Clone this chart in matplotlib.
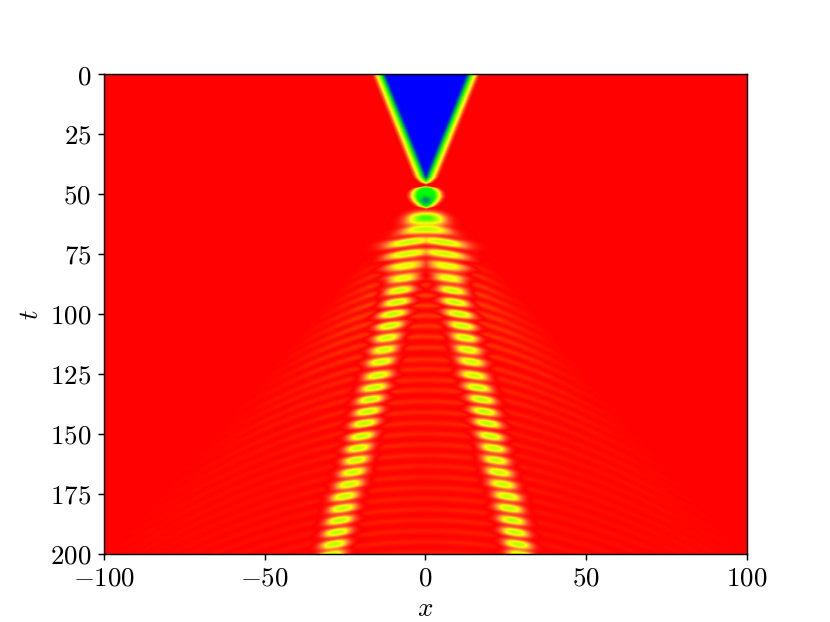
import numpy as np
import matplotlib
matplotlib.use("Agg")
import matplotlib.pyplot as plt
from matplotlib.colors import LinearSegmentedColormap

plt.rcParams['mathtext.fontset'] = 'cm'
plt.rcParams['font.family'] = 'cmr10'
plt.rcParams['axes.formatter.use_mathtext'] = True

x_ticks = [-100, -50, 0, 50, 100]
t_ticks = [0, 25, 50, 75, 100, 125, 150, 175, 200]

# wedge of the dark region, half width against time
wedge_t = [0, 10, 20, 30, 40, 43, 45, 46.5]
wedge_half = [14, 11, 8, 5, 2, 1.1, -0.4, -3.5]
edge_dist = [-3, -1.2, 0, 1.0, 1.6, 2.2, 3.0]
edge_value = [0.0, 0.12, 0.4, 0.62, 0.72, 0.88, 1.0]

# blobs: time, |x| of centre, half length, half height, depth
blob_t = [60.2, 65, 70, 75, 80, 85, 90, 95, 100, 105, 110, 115, 120, 125.5, 130.6, 135.6,
          140.6, 145.6, 151, 156, 161, 166, 171, 176, 181, 186, 191, 196, 200.5]
blob_x = [0, 0, 5.2, 5.7, 6.5, 7.2, 8.3, 9.1, 10.3, 11.2, 12.1, 13, 14, 14.9, 16.1, 17.3,
          18.1, 19.1, 20, 21, 21.7, 22.7, 23.8, 25.3, 25.9, 26.8, 27.6, 28.5, 29.5]
blob_len = [6.0, 8.0, 7.8, 7.2, 6.2, 5.2, 4.8, 4.6, 4.7, 4.5, 4.4, 4.4, 4.5, 4.6, 4.5, 4.4,
            4.4, 4.4, 4.3, 4.3, 4.3, 4.4, 4.5, 4.5, 4.5, 4.5, 4.4, 4.4, 4.4]
blob_high = [2.8, 1.85, 1.85, 1.85, 1.85, 1.85, 1.85, 1.85, 1.85, 1.85, 1.85, 1.85, 1.85, 1.85, 1.85,
             1.85, 1.85, 1.85, 1.85, 1.85, 1.85, 1.85, 1.85, 1.85, 1.85, 1.85, 1.85, 1.85, 1.85]
blob_depth = [0.55, 0.42, 0.42, 0.42, 0.42, 0.42, 0.43, 0.43, 0.43, 0.43, 0.43, 0.43, 0.43, 0.43, 0.43,
              0.43, 0.43, 0.43, 0.43, 0.43, 0.43, 0.43, 0.43, 0.43, 0.43, 0.43, 0.43, 0.43, 0.43]

# small green bubble under the wedge, half width against time
bubble_t = [46.3, 47.5, 49, 51, 53, 55, 56.5]
bubble_half = [-2.5, 2.4, 3.7, 4.0, 3.2, 1.5, -2.5]
bubble_dist = [-1.2, 0, 0.6, 1.4, 2.4]
bubble_value = [0.40, 0.6, 0.72, 0.9, 1.0]
core_t = 52.6

# ripples, time of each stripe at x=0
ripple_t = [62, 66.5, 71, 75.5, 79.5, 84, 88, 92.3, 96.5, 100.7, 105, 109.4, 114, 119, 123, 127.5,
            131.7, 136.5, 141, 145.5, 150, 154.5, 159, 163.5, 168, 172.5, 177, 181.5, 186, 190.5,
            195, 199.5]
ripple_x = [0, 10, 25, 40, 60, 80, 100]
ripple_x_level = [0.8, 1.0, 0.8, 0.55, 0.4, 0.35, 0.3]
ripple_time = [60, 100, 130, 160, 200]
ripple_time_level = [0.08, 0.05, 0.032, 0.024, 0.02]
cone_x = [0, 20, 50, 100]
cone_t = [45, 78, 125, 200]
ripple_speed = 0.9
ripple_origin = 45

cmap_levels = [0.0, 0.07, 0.2, 0.36, 0.5, 0.61, 0.72, 0.81, 0.909, 1.0]
cmap_colors = ['#0000ff', '#0000ff', '#007f80', '#00ff00', '#aaff00', '#ffff00',
               '#ff9a30', '#ff4a28', '#ff0000', '#ff8000']


def build_field(x, t):
    X, T = np.meshgrid(x, t)
    A = np.abs(X)
    field = np.ones_like(X)

    # ripples
    level = np.interp(A, ripple_x, ripple_x_level) * np.interp(T, ripple_time, ripple_time_level)
    fade = np.clip((T - np.interp(A, cone_x, cone_t)) / 20, 0, 1)
    stripes = np.zeros_like(X)
    for tk in ripple_t:
        arc = ripple_origin + np.sqrt((tk - ripple_origin) ** 2 + (A / ripple_speed) ** 2)
        stripes += np.exp(-((T - arc) / 1.2) ** 2)
    field += level * fade * stripes

    # blobs, tilted so they follow the stripes
    for tk, xc, a, b, d in zip(blob_t, blob_x, blob_len, blob_high, blob_depth):
        bend = 0.2 * (np.hypot(A, 3) - np.hypot(xc, 3))
        if xc == 0:
            bend = 0.12 * A ** 2 / a
        field -= d * np.exp(-np.abs((A - xc) / a) ** 2.6 - np.abs((T - tk - bend) / b) ** 2.6)

    # bubble
    half = np.interp(T, bubble_t, bubble_half)
    bubble = np.interp(A - half, bubble_dist, bubble_value)
    bubble = bubble - 0.18 * np.exp(-(X / 1.6) ** 2 - ((T - core_t) / 1.6) ** 2)
    field = np.where(bubble < 0.999, np.minimum(field, bubble), field)

    # wedge
    half = np.interp(T, wedge_t, wedge_half)
    wedge = np.interp(A - half, edge_dist, edge_value)
    return np.where(wedge < 0.999, np.minimum(field, wedge), field)


def main():
    x = np.linspace(-100, 100, 1000)
    t = np.linspace(0, 200, 800)
    field = build_field(x, t)

    cmap = LinearSegmentedColormap.from_list("front", list(zip(cmap_levels, cmap_colors)), N=512)

    fig, ax = plt.subplots(figsize=(6.4, 4.8))
    ax.imshow(field, extent=[-100, 100, 200, 0], aspect='auto', cmap=cmap, vmin=0, vmax=1.1,
              interpolation='bilinear')
    ax.set_xticks(x_ticks)
    ax.set_yticks(t_ticks)
    ax.set_xticklabels(['$%d$' % v for v in x_ticks], fontsize=15)
    ax.set_yticklabels(['$%d$' % v for v in t_ticks], fontsize=15)
    ax.set_xlabel('$x$', fontsize=15)
    ax.set_ylabel('$t$', fontsize=15)
    fig.savefig("out.png", dpi=129.7)


if __name__ == "__main__":
    main()
